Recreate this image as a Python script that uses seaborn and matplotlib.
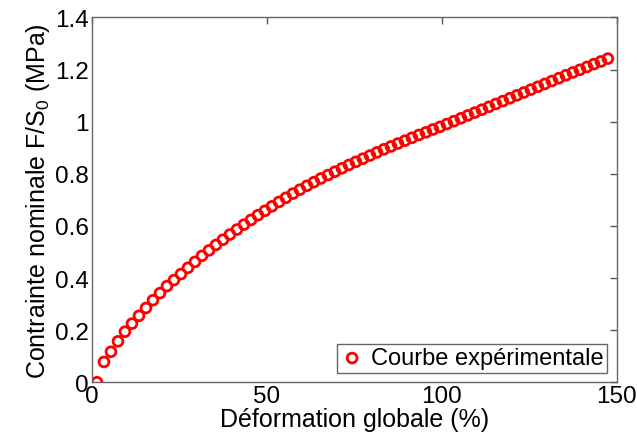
import matplotlib
matplotlib.use('Agg')
import matplotlib.pyplot as plt
import seaborn as sns
import pandas as pd
from matplotlib.ticker import FormatStrFormatter

# données
deformation = [1.5, 3.5, 5.5, 7.5, 9.5, 11.5, 13.5, 15.5, 17.5, 19.5,
               21.5, 23.5, 25.5, 27.5, 29.5, 31.5, 33.5, 35.5, 37.5, 39.5,
               41.5, 43.5, 45.5, 47.5, 49.5, 51.5, 53.5, 55.5, 57.5, 59.5,
               61.5, 63.5, 65.5, 67.5, 69.5, 71.5, 73.5, 75.5, 77.5, 79.5,
               81.5, 83.5, 85.5, 87.5, 89.5, 91.5, 93.5, 95.5, 97.5, 99.5,
               101.5, 103.5, 105.5, 107.5, 109.5, 111.5, 113.5, 115.5, 117.5, 119.5,
               121.5, 123.5, 125.5, 127.5, 129.5, 131.5, 133.5, 135.5, 137.5, 139.5,
               141.5, 143.5, 145.5, 147.5]
contrainte = [0.000, 0.078, 0.117, 0.157, 0.194, 0.225, 0.255, 0.285, 0.315, 0.342,
              0.369, 0.392, 0.415, 0.439, 0.462, 0.485, 0.506, 0.527, 0.547, 0.567,
              0.586, 0.605, 0.623, 0.641, 0.658, 0.675, 0.692, 0.708, 0.724, 0.739,
              0.754, 0.768, 0.782, 0.795, 0.808, 0.821, 0.834, 0.846, 0.858, 0.870,
              0.882, 0.894, 0.905, 0.916, 0.927, 0.938, 0.949, 0.959, 0.970, 0.980,
              0.991, 1.002, 1.013, 1.024, 1.035, 1.046, 1.057, 1.068, 1.079, 1.090,
              1.101, 1.112, 1.123, 1.134, 1.145, 1.156, 1.167, 1.178, 1.189, 1.199,
              1.210, 1.221, 1.231, 1.242]
x_ticks = [0, 50, 100, 150]
y_ticks = [0, 0.2, 0.4, 0.6, 0.8, 1.0, 1.2, 1.4]

df = pd.DataFrame({'def': deformation, 'sig': contrainte})

sns.set_style('white')
plt.rcParams['font.family'] = ['Liberation Sans', 'DejaVu Sans']
plt.rcParams['mathtext.fontset'] = 'custom'
plt.rcParams['mathtext.rm'] = 'Liberation Sans'
plt.rcParams['mathtext.it'] = 'Liberation Sans'
plt.rcParams['text.color'] = 'black'
plt.rcParams['axes.labelcolor'] = 'black'
plt.rcParams['xtick.color'] = 'black'
plt.rcParams['ytick.color'] = 'black'

fig = plt.figure(figsize=(6.37, 4.39), dpi=100)
ax = fig.add_axes([0.144, 0.127, 0.824, 0.831])

sns.scatterplot(data=df, x='def', y='sig', ax=ax, marker='o', s=50,
                facecolor='none', edgecolor='red', linewidth=2.0,
                label='Courbe expérimentale')

ax.set_xlim(0, 150)
ax.set_ylim(0, 1.4)
ax.set_xticks(x_ticks)
ax.set_yticks(y_ticks)
ax.yaxis.set_major_formatter(FormatStrFormatter('%g'))

ax.set_xlabel('Déformation globale (%)', fontsize=18, labelpad=0)
ax.set_ylabel('Contrainte nominale F/S$_0$ (MPa)', fontsize=18, labelpad=2)
ax.tick_params(direction='in', length=5, width=1, labelsize=17.5,
               top=True, right=True, pad=2)
ax.tick_params(colors='0.35', labelcolor='black')
for sp in ax.spines.values():
    sp.set_color('0.4')
    sp.set_linewidth(1)

leg = ax.legend(loc='lower right', fontsize=17, frameon=True, fancybox=False,
                edgecolor='0.4', framealpha=1, handletextpad=0.3,
                borderpad=0.15, borderaxespad=0.4, handlelength=1.0)
leg.get_frame().set_linewidth(1)

fig.savefig('out.png', dpi=100)
